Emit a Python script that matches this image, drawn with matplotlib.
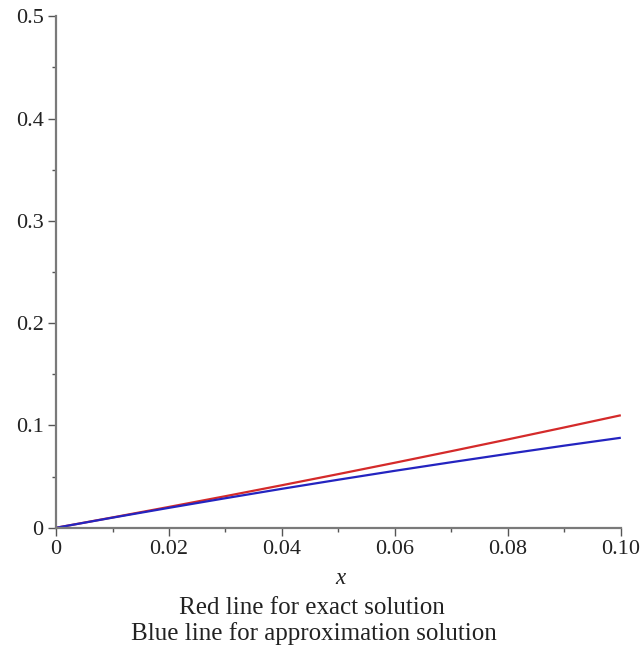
import matplotlib
matplotlib.use("Agg")
import matplotlib.pyplot as plt
from matplotlib.ticker import MultipleLocator

# Sample points of both solutions
x_vals = [0.0, 0.01, 0.02, 0.03, 0.04, 0.05, 0.06, 0.07, 0.08, 0.09, 0.10]
exact_vals = [0.0, 0.0101, 0.0204, 0.0309, 0.0416, 0.0525, 0.0636, 0.0749, 0.0864, 0.0981, 0.110]
approx_vals = [0.0, 0.0099, 0.0195, 0.0289, 0.0381, 0.0470, 0.0557, 0.0641, 0.0723, 0.0803, 0.088]

x_ticks = [0.0, 0.02, 0.04, 0.06, 0.08, 0.10]
x_tick_labels = ["0", "0.02", "0.04", "0.06", "0.08", "0.10"]
y_ticks = [0.0, 0.1, 0.2, 0.3, 0.4, 0.5]
y_tick_labels = ["0", "0.1", "0.2", "0.3", "0.4", "0.5"]

plt.rcParams["font.family"] = ["Liberation Serif", "DejaVu Serif"]

fig = plt.figure(figsize=(6.44, 6.54), dpi=100)
ax = fig.add_axes([0.087, 0.193, 0.877, 0.782])

ax.plot(x_vals, exact_vals, color="#d42a2a", lw=1.6, solid_capstyle="butt")
ax.plot(x_vals, approx_vals, color="#2424c0", lw=1.6, solid_capstyle="butt")

ax.set_xlim(0, 0.1)
ax.set_ylim(0, 0.5)
ax.set_xticks(x_ticks)
ax.set_xticklabels(x_tick_labels)
ax.set_yticks(y_ticks)
ax.set_yticklabels(y_tick_labels)
ax.xaxis.set_minor_locator(MultipleLocator(0.01))
ax.yaxis.set_minor_locator(MultipleLocator(0.05))

for side in ("top", "right"):
    ax.spines[side].set_visible(False)
for side in ("left", "bottom"):
    ax.spines[side].set_color("#7a7a7a")
    ax.spines[side].set_linewidth(1.6)

ax.tick_params(which="major", length=6, width=1.0, color="#555555",
               labelsize=16, labelcolor="#222222", pad=3)
ax.tick_params(which="minor", length=3, width=1.0, color="#555555")

fig.text(0.528, 0.115, "x", ha="center", va="center", fontsize=16.5,
         style="italic", color="#222222")
fig.text(0.484, 0.070, "Red line for exact solution", ha="center",
         va="center", fontsize=18, color="#222222")
fig.text(0.488, 0.031, "Blue line for approximation solution", ha="center",
         va="center", fontsize=18, color="#222222")

fig.savefig("out.png", dpi=100)
